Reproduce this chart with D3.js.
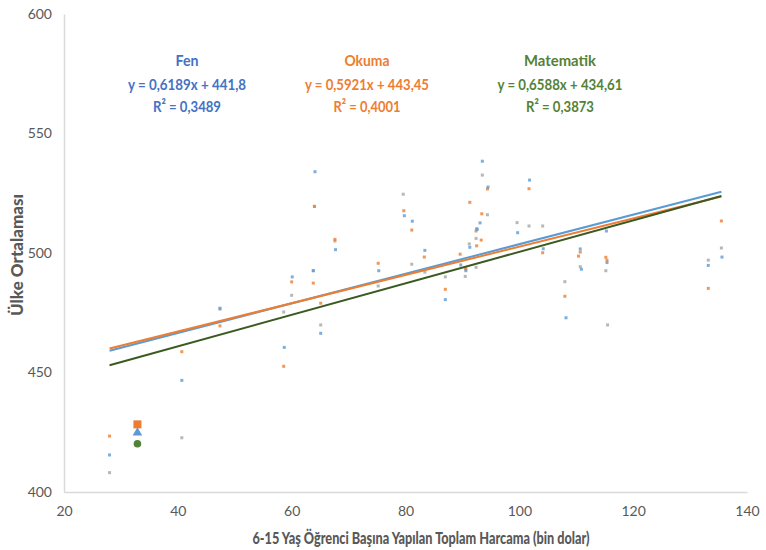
<!DOCTYPE html>
<html><head><meta charset="utf-8">
<script src="https://cdn.jsdelivr.net/npm/d3@7/dist/d3.min.js"></script>
<style>body{margin:0;background:#fff;font-family:Lato,"Open Sans",sans-serif}</style>
</head><body><svg id="c" width="766" height="550"></svg>
<script>
const xTicks = [20,40,60,80,100,120,140];
const yTicks = [400,450,500,550,600];
const fenPts = [[28.0,415.5],[40.7,446.7],[47.4,476.9],[58.7,460.5],[60.1,490.0],[63.8,492.6],[64.1,534.0],[65.1,466.4],[67.7,501.4],[75.3,492.6],[79.8,515.6],[81.2,513.3],[83.4,501.1],[87.0,480.5],[89.7,495.0],[90.6,492.6],[91.3,502.4],[92.6,509.9],[93.1,512.6],[93.5,538.4],[94.5,527.6],[99.7,508.5],[101.8,530.5],[104.2,501.8],[108.2,472.9],[110.7,501.7],[110.9,493.2],[115.3,509.2],[115.4,496.0],[133.2,494.8],[135.6,498.3]];
const okumaPts = [[28.0,423.4],[40.7,458.7],[47.4,469.5],[58.6,452.6],[60.0,487.9],[63.8,487.4],[64.0,519.5],[65.1,479.0],[67.6,505.7],[75.2,495.7],[79.7,517.7],[81.1,509.6],[83.3,498.3],[87.0,484.8],[89.6,499.5],[90.6,493.3],[91.3,521.2],[92.4,509.2],[92.5,503.0],[93.4,516.4],[93.3,505.4],[94.4,526.8],[101.7,526.9],[104.1,500.1],[108.0,481.9],[110.4,498.7],[110.7,500.4],[115.2,498.2],[115.4,497.0],[133.2,485.2],[135.5,513.4]];
const matPts = [[28.0,408.1],[40.7,422.7],[47.4,476.5],[58.6,475.3],[60.0,482.3],[63.8,492.6],[64.0,519.5],[65.1,469.9],[67.6,505.0],[75.2,486.2],[79.6,524.6],[81.1,495.3],[83.4,492.0],[87.0,490.0],[90.5,493.9],[90.5,490.2],[91.2,503.8],[92.4,506.1],[92.4,494.0],[92.5,510.2],[93.5,532.6],[94.4,516.0],[99.6,512.7],[101.7,511.3],[104.1,511.3],[108.0,488.0],[110.7,494.3],[115.2,492.6],[115.5,469.9],[133.2,497.0],[135.5,502.1]];
const turkeyX = 32.9;
const turkeyScores = {okuma:428.3, fen:424.8, mat:420.2};
const trendNames = ["Fen","Okuma","Matematik"];
const trendSlopes = [0.6189,0.5921,0.6588];
const trendIntercepts = [441.8,443.45,434.61];
const trendEq = ["y = 0,6189x + 441,8","y = 0,5921x + 443,45","y = 0,6588x + 434,61"];
const trendR2 = ["R² = 0,3489","R² = 0,4001","R² = 0,3873"];
const trendRange = [28,135.5];

const FONT = "Lato,'Open Sans',sans-serif";
const svg = d3.select("#c");
const m = {l:64,r:19,t:14,b:58};
const W=766,H=550;
const x = d3.scaleLinear().domain([20,140]).range([m.l,W-m.r]);
const y = d3.scaleLinear().domain([400,600]).range([H-m.b,m.t]);
const axisCol="#d9d9d9", txtCol="#595959";

const gx = svg.append("g").attr("transform",`translate(0,${H-m.b})`)
  .call(d3.axisBottom(x).tickValues(xTicks).tickSize(0).tickPadding(14));
const gy = svg.append("g").attr("transform",`translate(${m.l},0)`)
  .call(d3.axisLeft(y).tickValues(yTicks).tickSize(0).tickPadding(12));
[gx,gy].forEach(g=>{
  g.select(".domain").attr("stroke",axisCol).attr("stroke-width",1.5);
  g.selectAll("text").attr("fill",txtCol).style("font-family",FONT).style("font-size","14px");
});

const lineCols = ["#5b9bd5","#ed7d31","#3b5a22"];
const txtCols = ["#4472c4","#ed7d31","#548235"];
const ptCols = {fen:"#5b9bd5",okuma:"#ed7d31",mat:"#a5a5a5"};

function pts(data,col){
  svg.append("g").selectAll("rect").data(data).join("rect")
    .attr("x",d=>x(d[0])-1.5).attr("y",d=>y(d[1])-1.5)
    .attr("width",3).attr("height",3).attr("fill",col).attr("opacity",0.8);
}
pts(matPts,ptCols.mat);
pts(okumaPts,ptCols.okuma);
pts(fenPts,ptCols.fen);

trendNames.forEach((n,i)=>{
  svg.append("line")
    .attr("x1",x(trendRange[0])).attr("y1",y(trendSlopes[i]*trendRange[0]+trendIntercepts[i]))
    .attr("x2",x(trendRange[1])).attr("y2",y(trendSlopes[i]*trendRange[1]+trendIntercepts[i]))
    .attr("stroke",lineCols[i]).attr("stroke-width",2);
});

const tx = x(turkeyX);
svg.append("rect").attr("x",tx-4).attr("y",y(turkeyScores.okuma)-4).attr("width",8).attr("height",8).attr("fill","#ed7d31");
svg.append("path").attr("d",d3.symbol().type(d3.symbolTriangle).size(40)())
  .attr("transform",`translate(${tx},${y(turkeyScores.fen)})`).attr("fill","#5b9bd5");
svg.append("circle").attr("cx",tx).attr("cy",y(turkeyScores.mat)).attr("r",3.8).attr("fill","#548235");

const annX = [187,367,560];
const annW = [[23,118,68],[45,124,67],[72,125,68]];
trendNames.forEach((n,i)=>{
  const g = svg.append("g").attr("fill",txtCols[i]).attr("text-anchor","middle")
    .style("font-family",FONT).style("font-weight","bold").style("font-size","16px");
  [n,trendEq[i],trendR2[i]].forEach((t,j)=>{
    g.append("text").attr("x",annX[i]).attr("y",[66,90,112][j])
      .attr("textLength",annW[i][j]).attr("lengthAdjust","spacingAndGlyphs").text(t);
  });
});

svg.append("text").attr("x",421).attr("y",544).attr("text-anchor","middle")
  .attr("fill",txtCol).style("font-weight","900").style("font-size","16.5px").style("font-family",FONT)
  .attr("textLength",337).attr("lengthAdjust","spacingAndGlyphs")
  .text("6-15 Yaş Öğrenci Başına Yapılan Toplam Harcama (bin dolar)");
svg.append("text").attr("transform",`translate(23,255) rotate(-90)`).attr("text-anchor","middle")
  .attr("fill",txtCol).style("font-weight","900").style("font-size","16.5px").style("font-family",FONT)
  .attr("textLength",122).attr("lengthAdjust","spacingAndGlyphs")
  .text("Ülke Ortalaması");
</script></body></html>
